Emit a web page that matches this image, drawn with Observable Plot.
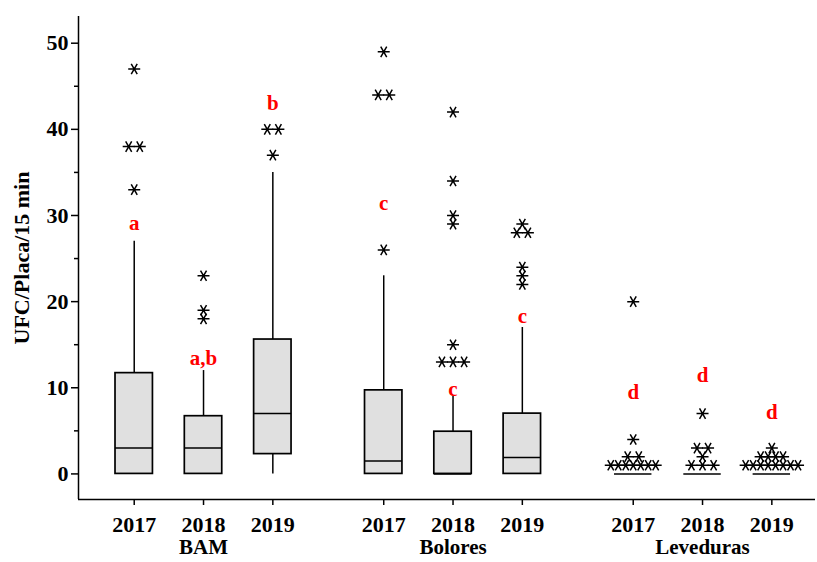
<!DOCTYPE html>
<html>
<head>
<meta charset="utf-8">
<script src="https://cdn.jsdelivr.net/npm/d3@7"></script>
<script src="https://cdn.jsdelivr.net/npm/@observablehq/plot@0.6"></script>
<style>
  html, body { margin: 0; padding: 0; background: white; }
</style>
</head>
<body>
<div id="chart"></div>
<script>
// ---- Data ----
const groups = ["BAM", "Bolores", "Leveduras"];
const years = ["2017", "2018", "2019"];
const q1 = [0, 0, 2.3, 0, 0, 0, 0, 0, 0];
const median = [3, 3, 7, 1.5, 0, 1.9, 0, 0, 0];
const q3 = [11.7, 6.7, 15.6, 9.7, 4.9, 7.0, 0, 0, 0];
const whiskerLow = [0, 0, 0, 0, 0, 0, 0, 0, 0];
const whiskerHigh = [27, 12, 35, 23, 9, 17, 0, 0, 0];
const outliers = [
  [47, 38, 38, 33],
  [23, 19, 18],
  [40, 40, 37],
  [49, 44, 44, 26],
  [42, 34, 30, 29, 15, 13, 13, 13],
  [29, 28, 28, 24, 23, 22],
  [20, 4, 2, 2, 1, 1, 1, 1, 1, 1, 1],
  [7, 3, 3, 2, 1, 1, 1],
  [3, 2, 2, 2, 2, 1, 1, 1, 1, 1, 1, 1, 1]
];
const letters = ["a", "a,b", "b", "c", "c", "c", "d", "d", "d"];
const letterY = [29.1, 13.4, 43, 31.4, 9.8, 18.3, 9.5, 11.5, 7.2];
const yTicks = [0, 10, 20, 30, 40, 50];
const yMinorTicks = [5, 15, 25, 35, 45];
const yTitle = "UFC/Placa/15 min";

// ---- Layout helpers ----
const pos = (gi, yi) => gi * 3.6 + yi + 1;
const xDomain = [0.196, 10.83];
const yDomain = [-2.97, 53.1];
const halfW = 0.27;
const serif = "'Liberation Serif', 'Times New Roman', serif";

const boxes = [];
const tickLabel = new Map();
groups.forEach((g, gi) => years.forEach((yr, yi) => {
  const i = gi * 3 + yi;
  const x = pos(gi, yi);
  tickLabel.set(x, yr);
  boxes.push({x, x1: x - halfW, x2: x + halfW, q1: q1[i], med: median[i], q3: q3[i],
    lo: whiskerLow[i], hi: whiskerHigh[i], letter: letters[i], ly: letterY[i]});
}));

const points = [];
outliers.forEach((vals, i) => {
  const x0 = boxes[i].x;
  const counts = d3.rollup(vals, v => v.length, d => d);
  for (const [v, n] of counts) {
    const sp = n >= 4 ? 0.108 : 0.16;
    for (let k = 0; k < n; k++) points.push({x: x0 + (k - (n - 1) / 2) * sp, y: v});
  }
});

const groupLabels = groups.map((g, gi) => ({x: pos(gi, 1), label: g}));

const asterisk = {
  draw(ctx, size) {
    const r = Math.sqrt(size / Math.PI);
    for (const a of [0, Math.PI / 3, 2 * Math.PI / 3]) {
      const dx = r * Math.cos(a), dy = r * Math.sin(a);
      ctx.moveTo(-dx, -dy);
      ctx.lineTo(dx, dy);
    }
  }
};

const chart = Plot.plot({
  width: 817,
  height: 562,
  marginLeft: 78,
  marginRight: 2,
  marginTop: 16,
  marginBottom: 63,
  x: {domain: xDomain, axis: null},
  y: {domain: yDomain, axis: null},
  style: {fontFamily: serif, background: "white", color: "black"},
  marks: [
    Plot.ruleX([xDomain[0]], {y1: yDomain[0], y2: yDomain[1], stroke: "black", strokeWidth: 1.5}),
    Plot.ruleY([yDomain[0]], {x1: xDomain[0], x2: xDomain[1], stroke: "black", strokeWidth: 1.5}),
    Plot.axisY({ticks: yTicks, tickSize: 7, tickPadding: 3, fontSize: 22, fontWeight: "bold",
      label: null, strokeWidth: 1.5, fill: "black"}),
    Plot.axisY({ticks: yMinorTicks, tickSize: 4, tickFormat: () => "", label: null, strokeWidth: 1.5}),
    Plot.axisX({ticks: boxes.map(b => b.x), tickFormat: d => tickLabel.get(d), tickSize: 6,
      tickPadding: 11, fontSize: 22, fontWeight: "bold", label: null, strokeWidth: 1.5, fill: "black"}),
    Plot.text(groupLabels, {x: "x", text: "label", frameAnchor: "bottom", lineAnchor: "top", dy: 40,
      fontSize: 21, fontWeight: "bold", fill: "black"}),
    Plot.text([yTitle], {frameAnchor: "left", dx: -57, rotate: -90, textAnchor: "middle",
      lineAnchor: "middle", fontSize: 22, fontWeight: "bold", fill: "black"}),
    // whiskers
    Plot.ruleX(boxes, {x: "x", y1: "q3", y2: "hi", stroke: "black", strokeWidth: 1.5}),
    Plot.ruleX(boxes, {x: "x", y1: "lo", y2: "q1", stroke: "black", strokeWidth: 1.5}),
    // boxes
    Plot.rect(boxes, {x1: "x1", x2: "x2", y1: "q1", y2: "q3", fill: "#e0e0e0", stroke: "black", strokeWidth: 1.7}),
    // medians
    Plot.ruleY(boxes, {y: "med", x1: "x1", x2: "x2", stroke: "black", strokeWidth: 1.5}),
    // outliers
    Plot.dot(points, {x: "x", y: "y", symbol: asterisk, r: 6, stroke: "black", fill: "none", strokeWidth: 1.5}),
    // significance letters
    Plot.text(boxes, {x: "x", y: "ly", text: "letter", fill: "#ff0000", fontSize: 21, fontWeight: "bold",
      lineAnchor: "middle"})
  ]
});
document.getElementById("chart").appendChild(chart);
</script>
</body>
</html>
